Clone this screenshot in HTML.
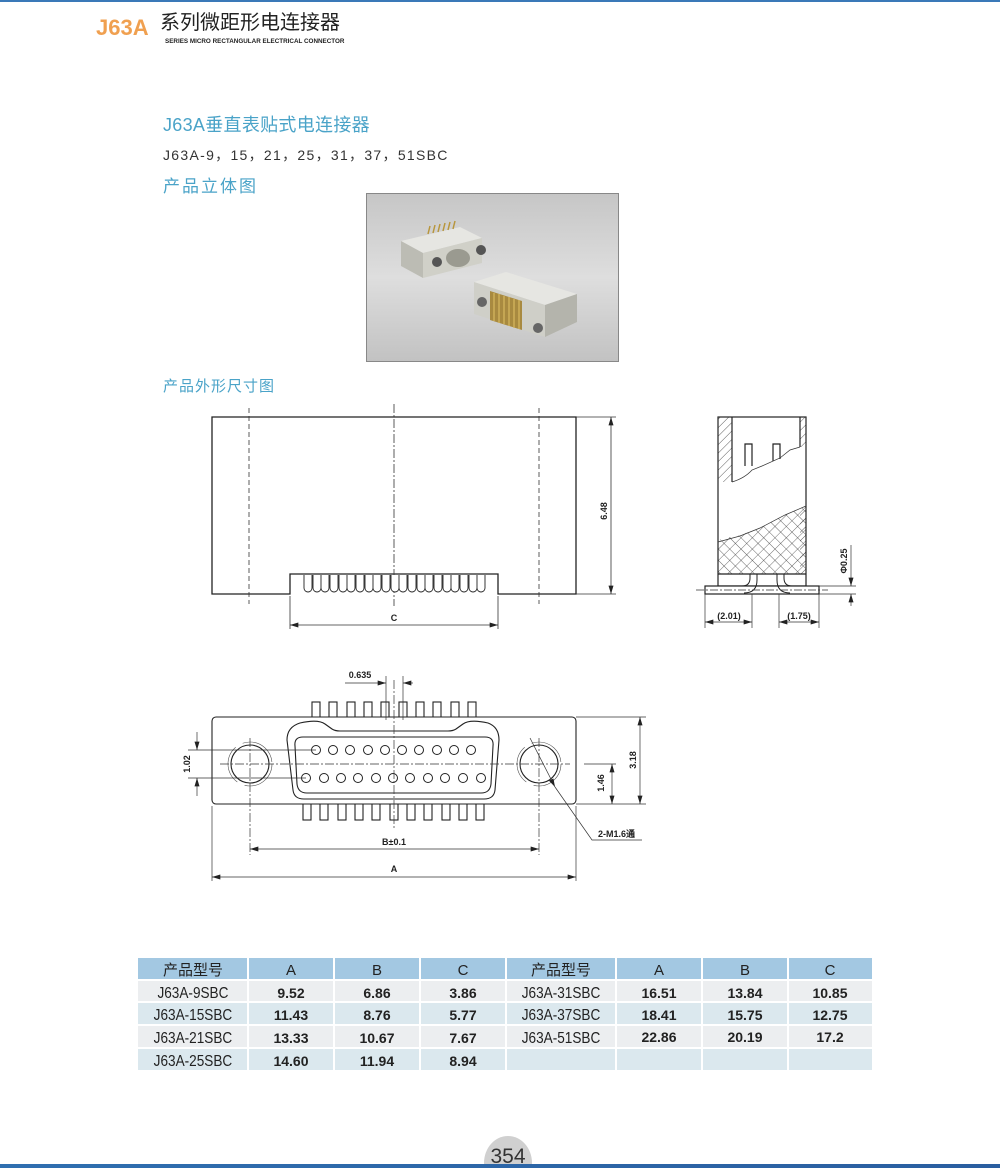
<!DOCTYPE html>
<html><head><meta charset="utf-8"><style>
html,body{margin:0;padding:0;background:#fff;}
svg{display:block;}
text{font-family:"Liberation Sans","Noto Sans CJK SC",sans-serif;}
.d{font-family:"Liberation Sans",sans-serif;font-weight:bold;font-size:9px;fill:#222;}
</style></head><body>
<svg width="1000" height="1168" viewBox="0 0 1000 1168" xmlns="http://www.w3.org/2000/svg">
<defs>
<marker id="ar" viewBox="0 0 10 6" refX="10" refY="3" markerWidth="9" markerHeight="5" orient="auto-start-reverse" markerUnits="userSpaceOnUse"><path d="M0,0 L10,3 L0,6z" fill="#222"/></marker>
<pattern id="hat" width="6" height="6" patternUnits="userSpaceOnUse" patternTransform="rotate(45)"><line x1="0" y1="0" x2="0" y2="6" stroke="#333" stroke-width="0.8"/></pattern>
<pattern id="xh" width="8" height="8" patternUnits="userSpaceOnUse" patternTransform="rotate(45)"><path d="M0,0 V8 M0,0 H8" stroke="#333" stroke-width="0.7" fill="none"/></pattern>
<linearGradient id="pg" x1="0" y1="0" x2="0" y2="1"><stop offset="0" stop-color="#c6c6c6"/><stop offset="0.5" stop-color="#dedede"/><stop offset="1" stop-color="#c2c2c2"/></linearGradient>
<linearGradient id="bar" x1="0" y1="0" x2="1" y2="0"><stop offset="0" stop-color="#2f6fb0"/><stop offset="1" stop-color="#2a5ea0"/></linearGradient>
</defs>
<rect x="0" y="0" width="1000" height="2" fill="#3a79b8"/>
<text x="96" y="35" font-size="22" font-weight="bold" fill="#f0a050">J63A</text>
<text x="160" y="29" font-size="20" fill="#222">系列微距形电连接器</text>
<text x="165" y="43" font-size="6.3" fill="#222" font-weight="bold">SERIES MICRO RECTANGULAR ELECTRICAL CONNECTOR</text>
<text x="163" y="131" font-size="18" fill="#4aa3c8" letter-spacing="0.3">J63A垂直表贴式电连接器</text>
<text x="163" y="160" font-size="14" fill="#333" letter-spacing="1.3">J63A-9，15，21，25，31，37，51SBC</text>
<text x="163" y="192" font-size="17" fill="#4aa3c8" letter-spacing="2">产品立体图</text>
<rect x="366.5" y="193.5" width="252" height="168" fill="url(#pg)" stroke="#888"/>
<polygon points="401,241 460,227 482,238 423,253" fill="#e6e6e2"/>
<polygon points="401,241 423,253 423,278 401,266" fill="#bcbcb4"/>
<polygon points="423,253 482,238 482,263 423,278" fill="#d0d0c8"/>
<ellipse cx="437" cy="262" rx="5" ry="5" fill="#555"/><ellipse cx="481" cy="250" rx="5" ry="5" fill="#555"/>
<ellipse cx="458" cy="258" rx="12" ry="9" fill="#9a9a90"/>
<g stroke="#b8963c" stroke-width="1.5"><line x1="428" y1="234" x2="430" y2="226"/><line x1="433" y1="233" x2="435" y2="225"/><line x1="438" y1="232" x2="440" y2="224"/><line x1="443" y1="231" x2="445" y2="223"/><line x1="448" y1="230" x2="450" y2="222"/><line x1="453" y1="229" x2="455" y2="221"/></g>
<polygon points="474,282 506,272 577,294 545,305" fill="#e6e6e2"/>
<polygon points="474,282 545,305 545,337 474,314" fill="#cfcfc8"/>
<polygon points="545,305 577,294 577,322 545,337" fill="#b4b4ac"/>
<circle cx="482" cy="302" r="5" fill="#666"/><circle cx="538" cy="328" r="5" fill="#666"/>
<polygon points="490,291 522,301 522,330 490,320" fill="#a88a40"/>
<g stroke="#d8b860" stroke-width="1.2"><line x1="494" y1="293" x2="494" y2="321"/><line x1="499" y1="294" x2="499" y2="323"/><line x1="504" y1="296" x2="504" y2="324"/><line x1="509" y1="297" x2="509" y2="326"/><line x1="514" y1="299" x2="514" y2="328"/><line x1="519" y1="300" x2="519" y2="329"/></g>
<text x="163" y="391" font-size="15" fill="#4aa3c8" letter-spacing="1">产品外形尺寸图</text>

<g fill="none" stroke="#222" stroke-width="1.3">
<path d="M212,417 H576 V594 H498 V574 H290 V594 H212 Z"/>
</g>
<g stroke="#333" stroke-width="0.8" fill="none">
<line x1="249" y1="408" x2="249" y2="604" stroke-dasharray="5,3"/>
<line x1="539" y1="408" x2="539" y2="604" stroke-dasharray="5,3"/>
<line x1="394" y1="404" x2="394" y2="606" stroke-dasharray="9,2,2,2"/>
<line x1="576" y1="417" x2="616" y2="417"/><line x1="576" y1="594" x2="616" y2="594"/>
<line x1="611" y1="417" x2="611" y2="594" marker-start="url(#ar)" marker-end="url(#ar)"/>
<line x1="290" y1="596" x2="290" y2="629"/><line x1="498" y1="596" x2="498" y2="629"/>
<line x1="290" y1="625" x2="498" y2="625" marker-start="url(#ar)" marker-end="url(#ar)"/>
</g>
<g stroke="#222" stroke-width="0.9" fill="#fff">
<path d="M304,575 v13 a4,4 0 0 0 8,0 v-13 M313,575 v13 a4,4 0 0 0 8,0 v-13 M321,575 v13 a4,4 0 0 0 8,0 v-13 M330,575 v13 a4,4 0 0 0 8,0 v-13 M339,575 v13 a4,4 0 0 0 8,0 v-13 M347,575 v13 a4,4 0 0 0 8,0 v-13 M356,575 v13 a4,4 0 0 0 8,0 v-13 M365,575 v13 a4,4 0 0 0 8,0 v-13 M373,575 v13 a4,4 0 0 0 8,0 v-13 M382,575 v13 a4,4 0 0 0 8,0 v-13 M391,575 v13 a4,4 0 0 0 8,0 v-13 M399,575 v13 a4,4 0 0 0 8,0 v-13 M408,575 v13 a4,4 0 0 0 8,0 v-13 M417,575 v13 a4,4 0 0 0 8,0 v-13 M425,575 v13 a4,4 0 0 0 8,0 v-13 M434,575 v13 a4,4 0 0 0 8,0 v-13 M443,575 v13 a4,4 0 0 0 8,0 v-13 M451,575 v13 a4,4 0 0 0 8,0 v-13 M460,575 v13 a4,4 0 0 0 8,0 v-13 M469,575 v13 a4,4 0 0 0 8,0 v-13 M477,575 v13 a4,4 0 0 0 8,0 v-13"/>
</g>
<text class="d" x="394" y="621" text-anchor="middle">C</text>
<text class="d" transform="translate(607,511) rotate(-90)" text-anchor="middle">6.48</text>

<rect x="718" y="417" width="14" height="65" fill="url(#hat)"/>
<rect x="800" y="417" width="6" height="30" fill="url(#hat)"/>
<path d="M718,540 L740,535 L760,528 L785,515 L800,508 L806,506 V574 H718 Z" fill="url(#xh)"/>
<path d="M800,508 V574 H806 V506 Z" fill="url(#hat)"/>
<g fill="none" stroke="#222" stroke-width="1.2">
<rect x="718" y="417" width="88" height="169"/>
<line x1="718" y1="574" x2="806" y2="574"/>
<line x1="732" y1="417" x2="732" y2="482"/>
<line x1="800" y1="417" x2="800" y2="447"/>
<path d="M745,466 V444 H752 V466 M773,461 V444 H780 V459"/>
<rect x="705" y="586" width="114" height="8" fill="#fff"/>
<path d="M750,574 V578 Q750,586 742,586 M757,574 V580 Q757,593 744,593" stroke-width="1"/>
<path d="M784,574 V578 Q784,586 792,586 M777,574 V580 Q777,593 790,593" stroke-width="1"/>
</g>
<g stroke="#333" stroke-width="0.7" fill="none">
<path d="M732,482 Q745,478 752,470 L762,466 L780,458 L790,450 L800,447"/>
<path d="M718,542 L740,536 L760,528 L785,515 L806,506"/>
<line x1="696" y1="590" x2="828" y2="590" stroke-dasharray="8,2,2,2"/>
<line x1="705" y1="594" x2="705" y2="628"/><line x1="752" y1="594" x2="752" y2="628"/>
<line x1="779" y1="594" x2="779" y2="628"/><line x1="819" y1="594" x2="819" y2="628"/>
<line x1="705" y1="622" x2="752" y2="622" marker-start="url(#ar)" marker-end="url(#ar)"/>
<line x1="779" y1="622" x2="819" y2="622" marker-start="url(#ar)" marker-end="url(#ar)"/>
<line x1="819" y1="586" x2="856" y2="586"/><line x1="819" y1="594" x2="856" y2="594"/>
<line x1="851" y1="545" x2="851" y2="586" marker-end="url(#ar)"/>
<line x1="851" y1="606" x2="851" y2="594" marker-end="url(#ar)"/>
</g>
<text class="d" x="729" y="619" text-anchor="middle">(2.01)</text>
<text class="d" x="799" y="619" text-anchor="middle">(1.75)</text>
<text class="d" transform="translate(847,561) rotate(-90)" text-anchor="middle">Φ0.25</text>

<g fill="#fff" stroke="#222" stroke-width="1.1">
<rect x="312" y="702" width="8" height="16"/><rect x="329" y="702" width="8" height="16"/><rect x="347" y="702" width="8" height="16"/><rect x="364" y="702" width="8" height="16"/><rect x="381" y="702" width="8" height="16"/><rect x="399" y="702" width="8" height="16"/><rect x="416" y="702" width="8" height="16"/><rect x="433" y="702" width="8" height="16"/><rect x="451" y="702" width="8" height="16"/><rect x="468" y="702" width="8" height="16"/>
<rect x="303" y="803" width="8" height="17"/><rect x="320" y="803" width="8" height="17"/><rect x="338" y="803" width="8" height="17"/><rect x="355" y="803" width="8" height="17"/><rect x="372" y="803" width="8" height="17"/><rect x="390" y="803" width="8" height="17"/><rect x="407" y="803" width="8" height="17"/><rect x="424" y="803" width="8" height="17"/><rect x="442" y="803" width="8" height="17"/><rect x="459" y="803" width="8" height="17"/><rect x="476" y="803" width="8" height="17"/>
<rect x="212" y="717" width="364" height="87" rx="4"/>
<path d="M300,723 Q318,719 325,724 L332,729 Q335,731 340,731 H448 Q453,731 456,729 L463,724 Q470,719 488,723 Q499,727 499,740 L495,790 Q494,799 484,799 H304 Q294,799 293,790 L287,740 Q287,727 300,723 Z"/>
<path d="M303,737 H485 Q494,737 493,746 L491,784 Q490,793 481,793 H307 Q298,793 297,784 L295,746 Q294,737 303,737 Z"/>
<circle cx="250" cy="764" r="19"/><circle cx="539" cy="764" r="19"/>
</g>
<g fill="none" stroke="#555" stroke-width="0.6">
<circle cx="250" cy="764" r="22" stroke-dasharray="40,8"/><circle cx="539" cy="764" r="22" stroke-dasharray="40,8"/>
</g>
<g fill="#fff" stroke="#222" stroke-width="1">
<circle cx="316" cy="750" r="4.5"/><circle cx="333" cy="750" r="4.5"/><circle cx="350" cy="750" r="4.5"/><circle cx="368" cy="750" r="4.5"/><circle cx="385" cy="750" r="4.5"/><circle cx="402" cy="750" r="4.5"/><circle cx="419" cy="750" r="4.5"/><circle cx="437" cy="750" r="4.5"/><circle cx="454" cy="750" r="4.5"/><circle cx="471" cy="750" r="4.5"/>
<circle cx="306" cy="778" r="4.5"/><circle cx="324" cy="778" r="4.5"/><circle cx="341" cy="778" r="4.5"/><circle cx="358" cy="778" r="4.5"/><circle cx="376" cy="778" r="4.5"/><circle cx="393" cy="778" r="4.5"/><circle cx="410" cy="778" r="4.5"/><circle cx="428" cy="778" r="4.5"/><circle cx="445" cy="778" r="4.5"/><circle cx="463" cy="778" r="4.5"/><circle cx="481" cy="778" r="4.5"/>
</g>
<g stroke="#333" stroke-width="0.7" fill="none">
<line x1="220" y1="764" x2="570" y2="764" stroke-dasharray="9,2,2,2"/>
<line x1="394" y1="680" x2="394" y2="830" stroke-dasharray="9,2,2,2"/>
<line x1="250" y1="738" x2="250" y2="855" stroke-dasharray="9,2,2,2"/>
<line x1="539" y1="738" x2="539" y2="855" stroke-dasharray="9,2,2,2"/>
<line x1="386" y1="676" x2="386" y2="720"/><line x1="403" y1="676" x2="403" y2="720"/>
<line x1="345" y1="683" x2="386" y2="683" marker-end="url(#ar)"/>
<line x1="413" y1="683" x2="403" y2="683" marker-end="url(#ar)"/>
<line x1="188" y1="750" x2="316" y2="750"/><line x1="188" y1="778" x2="306" y2="778"/>
<line x1="197" y1="732" x2="197" y2="750" marker-end="url(#ar)"/>
<line x1="197" y1="796" x2="197" y2="778" marker-end="url(#ar)"/>
<line x1="576" y1="717" x2="646" y2="717"/><line x1="576" y1="804" x2="646" y2="804"/>
<line x1="640" y1="717" x2="640" y2="804" marker-start="url(#ar)" marker-end="url(#ar)"/>
<line x1="612" y1="764" x2="612" y2="804" marker-start="url(#ar)" marker-end="url(#ar)"/>
<line x1="584" y1="764" x2="616" y2="764"/>
<path d="M642,840 H592 L555,787" /><line x1="530" y1="738" x2="555" y2="787" marker-end="url(#ar)"/>
<line x1="212" y1="806" x2="212" y2="881"/><line x1="576" y1="806" x2="576" y2="881"/>
<line x1="250" y1="849" x2="539" y2="849" marker-start="url(#ar)" marker-end="url(#ar)"/>
<line x1="212" y1="877" x2="576" y2="877" marker-start="url(#ar)" marker-end="url(#ar)"/>
</g>
<text class="d" x="360" y="678" text-anchor="middle">0.635</text>
<text class="d" transform="translate(190,764) rotate(-90)" text-anchor="middle">1.02</text>
<text class="d" transform="translate(636,760) rotate(-90)" text-anchor="middle">3.18</text>
<text class="d" transform="translate(604,783) rotate(-90)" text-anchor="middle">1.46</text>
<text class="d" x="598" y="837">2-M1.6通</text>
<text class="d" x="394" y="845" text-anchor="middle">B±0.1</text>
<text class="d" x="394" y="872" text-anchor="middle">A</text>

<g>
<rect x="138" y="958" width="734" height="112" fill="#fff"/>
<g fill="#a3c8e2">
<rect x="138" y="958" width="109" height="21"/><rect x="249" y="958" width="84" height="21"/><rect x="335" y="958" width="84" height="21"/><rect x="421" y="958" width="84" height="21"/><rect x="507" y="958" width="108" height="21"/><rect x="617" y="958" width="84" height="21"/><rect x="703" y="958" width="84" height="21"/><rect x="789" y="958" width="83" height="21"/>
</g>
<g fill="#eceef0">
<rect x="138" y="981" width="734" height="20"/><rect x="138" y="1026" width="734" height="21"/>
</g>
<g fill="#dbe8ee">
<rect x="138" y="1003" width="734" height="21"/><rect x="138" y="1049" width="734" height="21"/>
</g>
<g fill="#fff"><rect x="247" y="981" width="2" height="89"/><rect x="333" y="981" width="2" height="89"/><rect x="419" y="981" width="2" height="89"/><rect x="505" y="981" width="2" height="89"/><rect x="615" y="981" width="2" height="89"/><rect x="701" y="981" width="2" height="89"/><rect x="787" y="981" width="2" height="89"/></g>
<g font-size="15" fill="#222" text-anchor="middle">
<text x="193" y="975">产品型号</text><text x="291" y="975">A</text><text x="377" y="975">B</text><text x="463" y="975">C</text>
<text x="561" y="975">产品型号</text><text x="659" y="975">A</text><text x="745" y="975">B</text><text x="830" y="975">C</text>
</g>
<g font-size="16" fill="#222" text-anchor="middle" transform="scale(0.85,1)">
<text x="227" y="998">J63A-9SBC</text><text x="227" y="1020">J63A-15SBC</text><text x="227" y="1043">J63A-21SBC</text><text x="227" y="1066">J63A-25SBC</text>
<text x="660" y="998">J63A-31SBC</text><text x="660" y="1020">J63A-37SBC</text><text x="660" y="1043">J63A-51SBC</text>
</g>
<g font-size="14" font-weight="bold" fill="#222" text-anchor="middle">
<text x="291" y="998">9.52</text><text x="377" y="998">6.86</text><text x="463" y="998">3.86</text>
<text x="291" y="1020">11.43</text><text x="377" y="1020">8.76</text><text x="463" y="1020">5.77</text>
<text x="291" y="1043">13.33</text><text x="377" y="1043">10.67</text><text x="463" y="1043">7.67</text>
<text x="291" y="1066">14.60</text><text x="377" y="1066">11.94</text><text x="463" y="1066">8.94</text>
<text x="659" y="998">16.51</text><text x="745" y="998">13.84</text><text x="830" y="998">10.85</text>
<text x="659" y="1020">18.41</text><text x="745" y="1020">15.75</text><text x="830" y="1020">12.75</text>
<text x="659" y="1042">22.86</text><text x="745" y="1042">20.19</text><text x="830" y="1042">17.2</text>
</g>
</g>
<ellipse cx="508" cy="1163" rx="24" ry="27" fill="#d0d0d0"/>
<text x="508" y="1163" font-size="21" fill="#333" text-anchor="middle" transform="translate(0,0)">354</text>
<rect x="0" y="1164" width="1000" height="4" fill="url(#bar)"/>
</svg>
</body></html>
